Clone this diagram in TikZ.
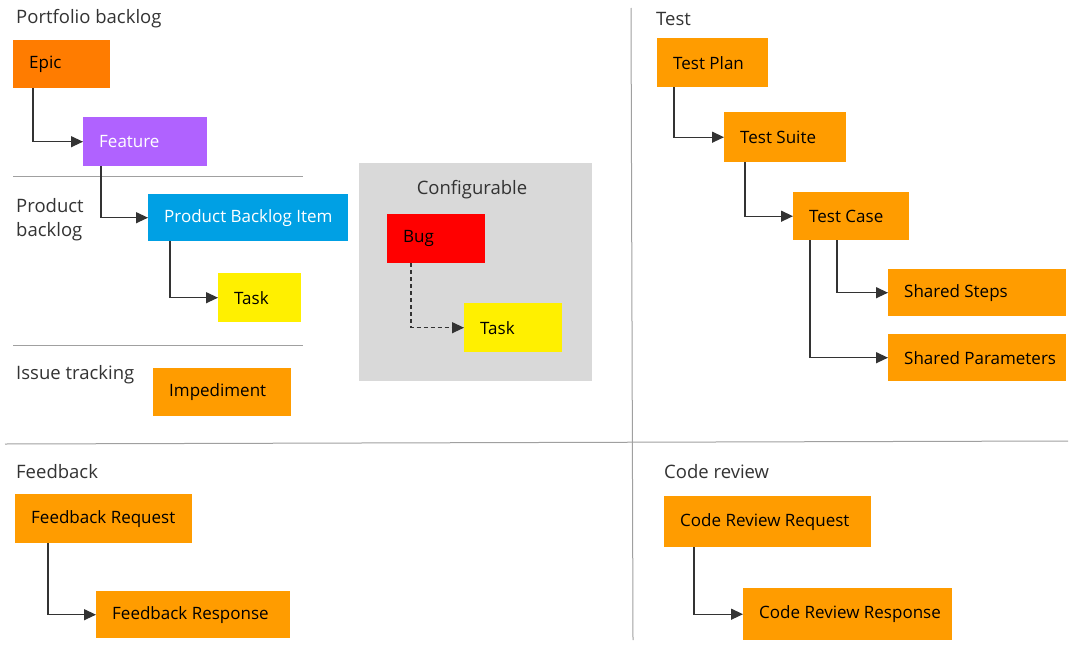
\documentclass[tikz,border=0pt]{standalone}
\usepackage{fontspec}
\setmainfont{Open Sans}
\usetikzlibrary{arrows.meta}
\definecolor{epicc}{HTML}{FF7C00}
\definecolor{featc}{HTML}{B062FF}
\definecolor{pbic}{HTML}{00A0E4}
\definecolor{taskc}{HTML}{FFF000}
\definecolor{bugc}{HTML}{FF0000}
\definecolor{orc}{HTML}{FF9C00}
\definecolor{cfgc}{HTML}{D9D9D9}
\definecolor{sepc}{HTML}{A0A0A0}
\definecolor{labc}{HTML}{333333}
\tikzset{
  wbox/.style={anchor=north west, inner sep=0pt, draw=none},
  wtext/.style={font=\fontsize{17}{19}\selectfont},
  seclabel/.style={anchor=west, inner sep=0pt, text=labc, font=\fontsize{18.5}{24}\selectfont, align=left},
  sep/.style={draw=sepc, line width=1pt},
  conn/.style={draw=black!80, line width=1.3pt, -{Triangle[length=12pt,width=11pt]}},
  dconn/.style={conn, dashed, dash pattern=on 4pt off 3pt}
}
\newcommand\wi[9]{% name, x, y, w, h, fill, text, textcolor
  \node[wbox, fill=#6, minimum width=#4, minimum height=#5,
    label={[anchor=west, inner sep=0pt, xshift=16pt, text=#8, wtext]west:#7}] (#1) at (#2,#3) {};}
\begin{document}
\begin{tikzpicture}[x=1pt,y=-1pt]
\useasboundingbox (0,0) rectangle (1073,645);
% section dividers
\draw[sep] (5,444) -- (1068,441);
\draw[sep] (631,8) -- (633,640);
\draw[sep] (13,176) -- (303,176);
\draw[sep] (13,345) -- (303,345);
% labels
\node[seclabel] (lpb) at (16,19) {Portfolio backlog};
\node[seclabel] (lprod) at (16,220) {Product\\backlog};
\node[seclabel] (lissue) at (16,375) {Issue tracking};
\node[seclabel] (ltest) at (656,19) {Test};
\node[seclabel] (lfb) at (16,472) {Feedback};
\node[seclabel] (lcr) at (664,472) {Code review};
% configurable
\node[wbox, fill=cfgc, minimum width=233, minimum height=218] (cfg) at (359,163) {};
\node[anchor=center, inner sep=0pt, text=labc, font=\fontsize{18.5}{20}\selectfont] (lcfg) at (472,190) {Configurable};
% work items
\wi{epic}{13}{40}{97}{48}{epicc}{Epic}{black}{}
\wi{feat}{83}{117}{124}{49}{featc}{Feature}{white}{}
\wi{pbi}{148}{194}{200}{47}{pbic}{Product Backlog Item}{white}{}
\wi{task}{218}{273}{83}{49}{taskc}{Task}{black}{}
\wi{imp}{153}{368}{138}{48}{orc}{Impediment}{black}{}
\wi{bug}{387}{214}{98}{49}{bugc}{Bug}{black}{}
\wi{task2}{464}{303}{98}{49}{taskc}{Task}{black}{}
\wi{tplan}{657}{38}{111}{49}{orc}{Test Plan}{black}{}
\wi{tsuite}{724}{112}{122}{50}{orc}{Test Suite}{black}{}
\wi{tcase}{793}{192}{116}{48}{orc}{Test Case}{black}{}
\wi{ssteps}{888}{269}{178}{47}{orc}{Shared Steps}{black}{}
\wi{spar}{888}{334}{178}{47}{orc}{Shared Parameters}{black}{}
\wi{fbreq}{15}{494}{177}{49}{orc}{Feedback Request}{black}{}
\wi{fbresp}{96}{591}{194}{47}{orc}{Feedback Response}{black}{}
\wi{crreq}{664}{496}{207}{51}{orc}{Code Review Request}{black}{}
\wi{crresp}{743}{588}{209}{52}{orc}{Code Review Response}{black}{}
% connectors
\draw[conn] (epic.south west) ++(20,0) |- (feat.west);
\draw[conn] (feat.south west) ++(18,0) |- (pbi.west);
\draw[conn] (pbi.south west) ++(22,0) |- (task.west);
\draw[dconn] (bug.south west) ++(24,0) |- (task2.west);
\draw[conn] (tplan.south west) ++(17,0) |- (tsuite.west);
\draw[conn] (tsuite.south west) ++(21,0) |- (tcase.west);
\draw[conn] (tcase.south west) ++(44,0) |- (ssteps.west);
\draw[conn] (tcase.south west) ++(17,0) |- (spar.west);
\draw[conn] (fbreq.south west) ++(33,0) |- (fbresp.west);
\draw[conn] (crreq.south west) ++(30,0) |- (crresp.west);
\end{tikzpicture}
\end{document}
